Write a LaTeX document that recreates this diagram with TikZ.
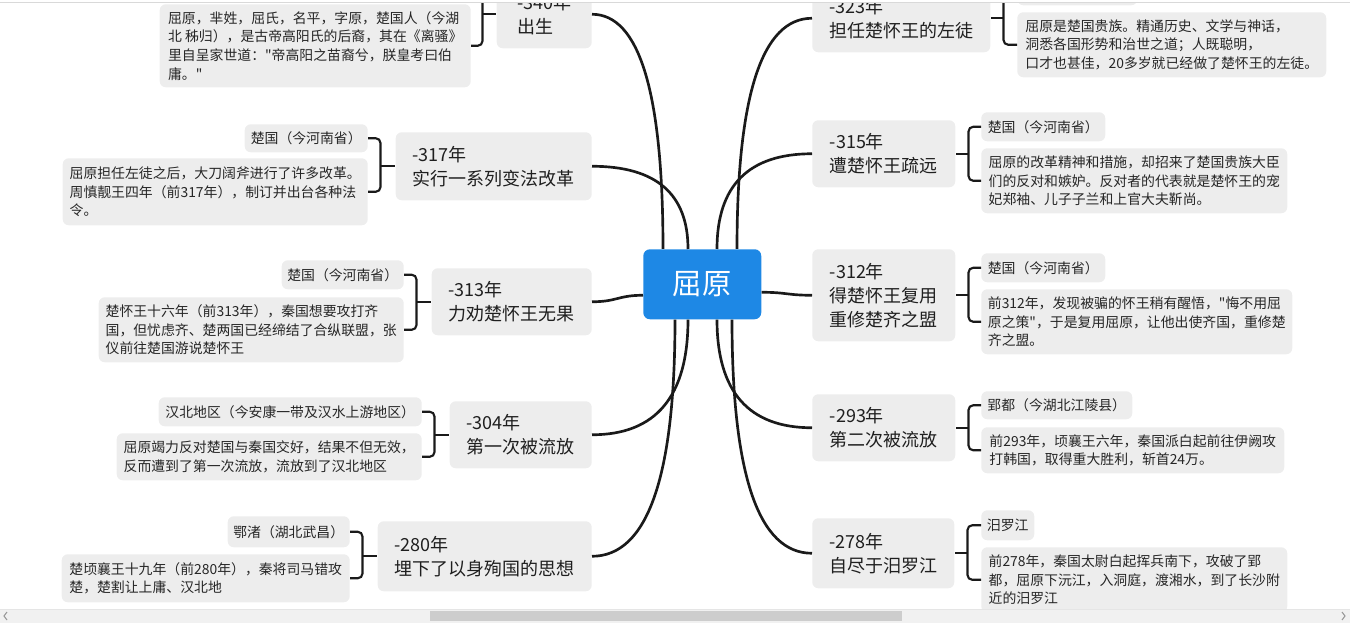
\documentclass[tikz,border=0pt]{standalone}
\usepackage{fontspec}
\setmainfont{Noto Sans CJK SC}
\newfontfamily\cjkfont{Noto Sans CJK SC}
\usetikzlibrary{calc}
\definecolor{boxfill}{RGB}{237,237,237}
\definecolor{mainblue}{RGB}{30,136,229}
\definecolor{linec}{RGB}{26,26,26}
\definecolor{trackc}{RGB}{241,241,241}
\definecolor{thumbc}{RGB}{205,205,205}
\newcommand{\mmcurve}[2]{%
  \coordinate (qq) at (#1 |- #2);
  \draw[conn] (#1) .. controls ($(#1)!0.667!(qq)$) and ($(#2)!0.667!(qq)$) .. (#2);
}
\begin{document}
\begin{tikzpicture}[x=0.75pt,y=-0.75pt,
  sz/.style 2 args={minimum width=#1*0.75pt, minimum height=#2*0.75pt},
  topic/.style={fill=boxfill, rounded corners=4.5pt, align=left, inner sep=0pt,
    font=\cjkfont\fontsize{13.5pt}{18pt}\selectfont, text=black!88},
  detail/.style={fill=boxfill, rounded corners=4.5pt, align=left, inner sep=0pt,
    font=\cjkfont\fontsize{10.4pt}{14pt}\selectfont, text=black!85},
  conn/.style={draw=linec, line width=2pt},
  brk/.style={draw=linec, line width=1.6pt, rounded corners=3.5pt},
]
\path[use as bounding box] (0,0) rectangle (1350,623);
\begin{scope}
\clip (0,3) rectangle (1350,623);
% center
\node[fill=mainblue, rounded corners=5pt, sz={118}{70}, inner sep=0pt, text=white,
  font=\cjkfont\fontsize{22pt}{26pt}\selectfont, anchor=north west] (C) at (643,249) {屈原};

% left topics
\node[topic, sz={95}{68}, anchor=north east] (T340) at (592,-20) {-340年\\出生};
\node[topic, sz={196}{68}, anchor=north east] (T317) at (592,132) {-317年\\实行一系列变法改革};
\node[topic, sz={160}{67}, anchor=north east] (T313) at (592,268) {-313年\\力劝楚怀王无果};
\node[topic, sz={142}{67}, anchor=north east] (T304) at (592,401) {-304年\\第一次被流放};
\node[topic, sz={214}{70}, anchor=north east] (T280) at (592,521) {-280年\\埋下了以身殉国的思想};

% right topics
\node[topic, sz={178}{68}, anchor=north west] (T323) at (812,-16) {-323年\\担任楚怀王的左徒};
\node[topic, sz={143}{67}, anchor=north west] (T315) at (812,120) {-315年\\遭楚怀王疏远};
\node[topic, sz={143}{92}, anchor=north west] (T312) at (812,249) {-312年\\得楚怀王复用\\重修楚齐之盟};
\node[topic, sz={143}{67}, anchor=north west] (T293) at (812,394) {-293年\\第二次被流放};
\node[topic, sz={142}{70}, anchor=north west] (T278) at (812,518) {-278年\\自尽于汨罗江};

% left details
\node[detail, sz={311}{83}, anchor=north east] (D340b) at (471,4) {屈原，芈姓，屈氏，名平，字原，楚国人（今湖\\北 秭归），是古帝高阳氏的后裔，其在《离骚》\\里自呈家世道："帝高阳之苗裔兮，朕皇考曰伯\\庸。"};
\node[detail, sz={123}{28}, anchor=north east] (D317a) at (368,124) {楚国（今河南省）};
\node[detail, sz={305}{67}, anchor=north east] (D317b) at (368,158) {屈原担任左徒之后，大刀阔斧进行了许多改革。\\周慎靓王四年（前317年），制订并出台各种法\\令。};
\node[detail, sz={122}{29}, anchor=north east] (D313a) at (404,260) {楚国（今河南省）};
\node[detail, sz={305}{65}, anchor=north east] (D313b) at (404,297) {楚怀王十六年（前313年），秦国想要攻打齐\\国，但忧虑齐、楚两国已经缔结了合纵联盟，张\\仪前往楚国游说楚怀王};
\node[detail, sz={263}{29}, anchor=north east] (D304a) at (422,397) {汉北地区（今安康一带及汉水上游地区）};
\node[detail, sz={305}{47}, anchor=north east] (D304b) at (422,433) {屈原竭力反对楚国与秦国交好，结果不但无效，\\反而遭到了第一次流放，流放到了汉北地区};
\node[detail, sz={122}{31}, anchor=north east] (D280a) at (350,516) {鄂渚（湖北武昌）};
\node[detail, sz={288}{48}, anchor=north east] (D280b) at (350,554) {楚顷襄王十九年（前280年），秦将司马错攻\\楚，楚割让上庸、汉北地};

% right details
\node[detail, sz={120}{30}, anchor=north west] (D323a) at (1017,-25) {};
\node[detail, sz={309}{65}, anchor=north west] (D323b) at (1017,12) {屈原是楚国贵族。精通历史、文学与神话，\\洞悉各国形势和治世之道；人既聪明，\\口才也甚佳，20多岁就已经做了楚怀王的左徒。};
\node[detail, sz={124}{29}, anchor=north west] (D315a) at (981,112) {楚国（今河南省）};
\node[detail, sz={306}{65}, anchor=north west] (D315b) at (981,148) {屈原的改革精神和措施，却招来了楚国贵族大臣\\们的反对和嫉妒。反对者的代表就是楚怀王的宠\\妃郑袖、儿子子兰和上官大夫靳尚。};
\node[detail, sz={124}{29}, anchor=north west] (D312a) at (981,253) {楚国（今河南省）};
\node[detail, sz={311}{65}, anchor=north west] (D312b) at (981,289) {前312年，发现被骗的怀王稍有醒悟，"悔不用屈\\原之策"，于是复用屈原，让他出使齐国，重修楚\\齐之盟。};
\node[detail, sz={151}{28}, anchor=north west] (D293a) at (981,391) {郢都（今湖北江陵县）};
\node[detail, sz={303}{46}, anchor=north west] (D293b) at (981,427) {前293年，顷襄王六年，秦国派白起前往伊阙攻\\打韩国，取得重大胜利，斩首24万。};
\node[detail, sz={53}{30}, anchor=north west] (D278a) at (981,510) {汨罗江};
\node[detail, sz={306}{65}, anchor=north west] (D278b) at (981,547) {前278年，秦国太尉白起挥兵南下，攻破了郢\\都，屈原下沅江，入洞庭，渡湘水，到了长沙附\\近的汨罗江};

% main connectors
\coordinate (s1) at ($(C.north west)+(20,0)$);
\coordinate (s2) at ($(C.north west)+(45,0)$);
\coordinate (s3) at ($(C.north west)+(74,0)$);
\coordinate (s4) at ($(C.north west)+(94,0)$);
\coordinate (b1) at ($(C.south west)+(32,0)$);
\coordinate (b2) at ($(C.south west)+(45,0)$);
\coordinate (b3) at ($(C.south west)+(74,0)$);
\coordinate (b4) at ($(C.south west)+(89,0)$);
\coordinate (sl) at ($(C.west)+(0,11)$);
\coordinate (sr) at ($(C.east)+(0,8)$);
\mmcurve{s1}{T340.east}
\mmcurve{s2}{T317.east}
\mmcurve{s3}{T315.west}
\mmcurve{s4}{T323.west}
\mmcurve{b1}{T280.east}
\mmcurve{b2}{T304.east}
\mmcurve{b3}{T293.west}
\mmcurve{b4}{T278.west}
\draw[conn] (sl) .. controls +(-25,0) and +(25,0) .. (T313.east);
\draw[conn] (sr) .. controls +(25,0) and +(-25,0) .. (T312.west);

% brackets left
\coordinate (J340) at ($(T340.west)+(-14,0)$);
\coordinate (U340) at (471,-16);
\draw[brk] (U340) -| (J340) |- (D340b.east);
\draw[brk] (J340) -- (T340.west);
\foreach \t in {317,313,304,280}{
  \coordinate (J\t) at ($(T\t.west)+(-15,0)$);
  \draw[brk] (D\t a.east) -| (J\t) |- (D\t b.east);
  \draw[brk] (J\t) -- (T\t.west);
}
% brackets right
\coordinate (J323) at ($(T323.east)+(13,0)$);
\draw[brk] (D323a.west) -| (J323) |- (D323b.west);
\draw[brk] (J323) -- (T323.east);
\foreach \t in {315,312,293,278}{
  \coordinate (J\t) at ($(T\t.east)+(13,0)$);
  \draw[brk] (D\t a.west) -| (J\t) |- (D\t b.west);
  \draw[brk] (J\t) -- (T\t.east);
}
\end{scope}

% viewport top edge
\draw[black!15, line width=0.8pt] (0,2.5) -- (1350,2.5);
% scrollbar
\fill[trackc] (0,609) rectangle (1350,623);
\draw[black!10, line width=0.75pt] (0,609) -- (1350,609);
\fill[thumbc] (430,611) rectangle (902,621);
\draw[black!40, line width=0.8pt] (7,612) -- (4,616) -- (7,620);
\draw[black!40, line width=0.8pt] (1342,612) -- (1345,616) -- (1342,620);
\end{tikzpicture}
\end{document}
